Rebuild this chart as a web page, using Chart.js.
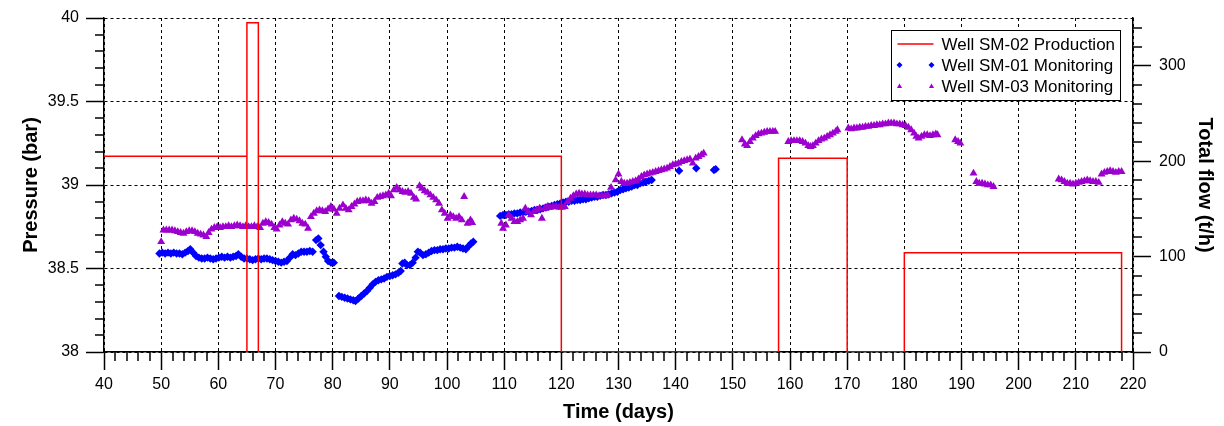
<!DOCTYPE html>
<html>
<head>
<meta charset="utf-8">
<script src="https://cdn.jsdelivr.net/npm/chart.js@4.4.1/dist/chart.umd.min.js"></script>
<style>
  html, body { margin: 0; padding: 0; background: #fff; }
</style>
</head>
<body>
<canvas id="pressure" width="1224" height="426"></canvas>
<script>
// tick labels
const dayTicks = [40, 50, 60, 70, 80, 90, 100, 110, 120, 130, 140, 150, 160, 170, 180, 190, 200, 210, 220];
const pressureTicks = [38, 38.5, 39, 39.5, 40];
const flowTicks = [0, 100, 200, 300];

// Well SM-02 production (t/h), corner points of the step line
const prodDays = [40, 65, 65, 65, 67, 67, 67, 120, 120, 158, 158, 170, 170, 180, 180, 218, 218];
const prodRate = [205, 205, 0, 345, 345, 0, 205, 205, 0, 0, 203, 203, 0, 0, 104, 104, 0];

// Well SM-01 monitoring, [day, bar]
const sm01 = [
  [49.7,38.59],[50.2,38.595],[50.7,38.59],[51.2,38.595],[51.7,38.59],[52.2,38.595],[52.7,38.59],[53.2,38.59],
  [53.7,38.585],[54.2,38.595],[54.7,38.605],[55.1,38.615],[55.6,38.595],[56.1,38.575],[56.6,38.565],[57.1,38.56],
  [57.6,38.56],[58.1,38.565],[58.6,38.56],[59.1,38.555],[59.6,38.56],[60.1,38.565],[60.6,38.57],[61.1,38.565],
  [61.6,38.57],[62.1,38.565],[62.6,38.57],[63.1,38.575],[63.5,38.585],[64.0,38.57],[64.5,38.56],[65.0,38.56],
  [65.5,38.555],[66.0,38.55],[66.5,38.555],[67.0,38.56],[67.5,38.555],[68.0,38.56],[68.5,38.56],[69.0,38.555],
  [69.5,38.55],[70.0,38.545],[70.5,38.54],[71.0,38.535],[71.5,38.54],[72.0,38.545],[72.5,38.565],[73.0,38.585],
  [73.5,38.58],[74.0,38.59],[74.5,38.6],[75.0,38.6],[75.5,38.6],[76.0,38.605],[76.5,38.6],[77.1,38.67],
  [77.5,38.68],[77.9,38.64],[78.4,38.6],[78.8,38.57],[79.2,38.545],[79.7,38.535],[80.2,38.535],
  [81.1,38.335],[81.6,38.33],[82.1,38.325],[82.6,38.32],[83.1,38.315],[83.6,38.31],[84.0,38.305],[84.5,38.32],
  [85.0,38.335],[85.5,38.35],[86.0,38.365],[86.5,38.385],[87.0,38.405],[87.5,38.42],[88.0,38.43],[88.5,38.435],
  [89.0,38.44],[89.5,38.45],[90.0,38.455],[90.5,38.46],[91.0,38.465],[91.5,38.475],[91.9,38.485],[92.2,38.53],
  [92.6,38.535],[93.0,38.52],[93.5,38.52],[94.0,38.535],[94.5,38.565],[94.9,38.6],[95.3,38.595],[95.8,38.58],
  [96.3,38.585],[96.8,38.595],[97.3,38.605],[97.8,38.61],[98.3,38.61],[98.8,38.615],[99.3,38.615],[99.8,38.62],
  [100.3,38.62],[100.8,38.625],[101.3,38.625],[101.8,38.63],[102.3,38.625],[102.8,38.62],[103.3,38.615],[103.8,38.635],
  [104.2,38.65],[104.6,38.66],
  [109.3,38.815],[109.8,38.82],[110.3,38.82],[110.8,38.825],[111.3,38.825],[111.8,38.83],[112.3,38.83],[112.8,38.835],
  [113.3,38.835],[113.8,38.84],[114.3,38.84],[114.8,38.845],[115.3,38.85],[115.8,38.85],[116.3,38.855],[116.8,38.86],
  [117.3,38.865],[117.8,38.87],[118.3,38.875],[118.8,38.88],[119.3,38.885],[119.8,38.89],[120.3,38.895],[120.8,38.9],
  [121.3,38.9],[121.8,38.905],[122.3,38.905],[122.8,38.91],[123.3,38.91],[123.8,38.915],[124.3,38.915],[124.8,38.92],
  [125.3,38.925],[125.8,38.93],[126.3,38.93],[126.8,38.935],[127.3,38.94],[127.8,38.94],[128.3,38.945],[128.8,38.95],
  [129.3,38.955],[129.8,38.96],[130.3,38.97],[130.8,38.975],[131.3,38.98],[131.8,38.985],[132.3,38.99],[132.8,39.0],
  [133.3,39.0],[133.8,39.01],[134.3,39.015],[134.8,39.02],[135.3,39.025],[135.8,39.03],
  [140.6,39.085],[143.6,39.1],[146.7,39.09],[147.0,39.095]
];

// Well SM-03 monitoring, [day, bar]
const sm03 = [
  [50.0,38.66],[50.4,38.73],[50.9,38.73],[51.4,38.73],[51.9,38.73],[52.4,38.725],[52.9,38.72],[53.4,38.715],
  [53.9,38.71],[54.4,38.72],[54.9,38.725],[55.4,38.725],[55.9,38.72],[56.4,38.71],[56.9,38.705],[57.4,38.7],
  [57.9,38.69],[58.3,38.715],[58.8,38.735],[59.3,38.745],[59.8,38.75],[60.3,38.745],[60.8,38.75],[61.3,38.75],
  [61.8,38.755],[62.3,38.75],[62.8,38.755],[63.3,38.76],[63.8,38.755],[64.3,38.75],[64.8,38.755],[65.3,38.75],
  [65.8,38.75],[66.3,38.755],[66.8,38.75],[67.3,38.745],[67.8,38.77],[68.3,38.78],[68.8,38.775],[69.3,38.765],
  [69.8,38.745],[70.2,38.735],[70.7,38.76],[71.2,38.78],[71.7,38.77],[72.2,38.765],[72.7,38.79],[73.2,38.8],
  [73.7,38.795],[74.2,38.785],[74.7,38.77],[75.2,38.765],[75.7,38.74],[76.2,38.81],[76.7,38.83],[77.2,38.845],
  [77.7,38.85],[78.2,38.845],[78.7,38.84],[79.2,38.855],[79.7,38.87],[80.2,38.855],[80.7,38.83],[81.2,38.86],
  [81.8,38.88],[82.3,38.86],[82.8,38.85],[83.3,38.87],[83.8,38.885],[84.3,38.9],[84.8,38.905],[85.3,38.905],
  [85.8,38.91],[86.3,38.905],[86.8,38.89],[87.3,38.9],[87.8,38.925],[88.3,38.93],[88.8,38.935],[89.3,38.94],
  [89.8,38.95],[90.2,38.935],[90.7,38.97],[91.2,38.985],[91.7,38.97],[92.2,38.96],[92.7,38.955],[93.2,38.96],
  [93.7,38.95],[94.2,38.925],[94.6,38.915],[95.2,38.995],[95.6,38.98],[96.1,38.965],[96.6,38.955],[97.1,38.94],
  [97.6,38.925],[98.1,38.91],[98.6,38.89],[99.1,38.85],[99.6,38.83],[100.1,38.8],[100.6,38.82],[101.1,38.81],
  [101.6,38.8],[102.1,38.81],[102.6,38.79],[103.0,38.93],[103.6,38.77],[104.1,38.79],[104.4,38.775],
  [109.5,38.77],[109.8,38.74],[110.3,38.76],[110.8,38.82],[111.3,38.8],[111.8,38.78],[112.3,38.78],[112.8,38.79],
  [113.3,38.8],[113.7,38.86],[114.2,38.84],[114.7,38.82],[115.2,38.84],[115.7,38.85],[116.2,38.86],[116.6,38.8],
  [117.1,38.86],[117.6,38.87],[118.1,38.865],[118.6,38.87],[119.1,38.87],[119.6,38.865],[120.1,38.865],[120.6,38.87],
  [121.1,38.9],[121.6,38.92],[122.1,38.935],[122.6,38.945],[123.1,38.95],[123.6,38.945],[124.1,38.945],[124.6,38.94],
  [125.1,38.94],[125.6,38.94],[126.1,38.94],[126.6,38.935],[127.1,38.935],[127.6,38.935],[128.1,38.94],[128.7,38.985],
  [129.5,39.03],[130.0,39.065],[130.5,39.02],[131.0,39.01],[131.5,39.01],[132.0,39.015],[132.5,39.02],[133.0,39.025],
  [133.5,39.035],[134.0,39.05],[134.5,39.06],[135.0,39.065],[135.5,39.07],[136.0,39.075],[136.5,39.08],[137.0,39.085],
  [137.5,39.09],[138.0,39.095],[138.5,39.1],[139.0,39.11],[139.5,39.12],[140.0,39.125],[140.5,39.13],[141.0,39.14],
  [141.5,39.145],[142.0,39.15],[142.5,39.155],[143.0,39.13],[143.5,39.16],[144.0,39.17],[144.5,39.18],[144.9,39.19],
  [151.6,39.27],[152.1,39.245],[152.5,39.235],[153.0,39.26],[153.5,39.28],[154.0,39.295],[154.5,39.305],[155.0,39.31],
  [155.5,39.315],[156.0,39.32],[156.5,39.32],[157.0,39.32],[157.4,39.32],
  [159.7,39.26],[160.2,39.265],[160.7,39.265],[161.2,39.265],[161.7,39.265],[162.2,39.26],[162.7,39.25],[163.2,39.235],
  [163.6,39.23],[164.0,39.235],[164.5,39.25],[165.0,39.265],[165.5,39.275],[166.0,39.28],[166.5,39.29],[167.0,39.3],
  [167.5,39.31],[168.0,39.32],[168.3,39.33],
  [170.2,39.34],[170.7,39.335],[171.2,39.34],[171.7,39.34],[172.2,39.345],[172.7,39.345],[173.2,39.35],[173.7,39.35],
  [174.2,39.355],[174.7,39.355],[175.2,39.36],[175.7,39.36],[176.2,39.365],[176.7,39.365],[177.2,39.37],[177.7,39.37],
  [178.2,39.37],[178.7,39.365],[179.2,39.365],[179.7,39.36],[180.2,39.355],[180.7,39.345],[181.2,39.33],[181.7,39.31],
  [182.1,39.29],[182.5,39.28],[183.0,39.29],[183.5,39.3],[184.0,39.3],[184.5,39.295],[185.0,39.3],[185.5,39.305],[185.8,39.3],
  [188.9,39.27],[189.4,39.26],[189.8,39.25],
  [192.1,39.07],[192.6,39.02],[193.1,39.01],[193.6,39.01],[194.1,39.005],[194.6,39.0],[195.1,39.0],[195.6,38.99],
  [207.0,39.035],[207.5,39.03],[208.0,39.02],[208.5,39.01],[209.0,39.01],[209.5,39.005],[210.0,39.01],[210.5,39.015],
  [211.0,39.02],[211.5,39.025],[212.0,39.03],[212.5,39.025],[213.0,39.02],[213.5,39.02],[214.0,39.015],[214.5,39.065],
  [215.0,39.075],[215.5,39.08],[216.0,39.085],[216.5,39.08],[217.0,39.075],[217.5,39.08],[218.0,39.08]
];

const RED = '#ff0000';
const BLUE = '#0000ff';
const PURPLE = '#9c00cf';

Chart.defaults.font.family = "'Liberation Sans', Arial, sans-serif";
Chart.defaults.color = '#000';

// minor tick marks (Chart.js has no minor ticks)
const minorTicks = {
  id: 'minorTicks',
  beforeDatasetsDraw(chart) {
    const { ctx, chartArea: a, scales } = chart;
    ctx.save();
    ctx.strokeStyle = '#000';
    ctx.lineWidth = 1.5;
    ctx.beginPath();
    for (let d = 40; d <= 220; d += 2) {
      if (d % 10 === 0) continue;
      const px = Math.round(scales.x.getPixelForValue(d));
      ctx.moveTo(px, a.bottom);
      ctx.lineTo(px, a.bottom + 9);
    }
    for (let i = 0; i <= 20; i++) {
      if (i % 5 === 0) continue;
      const py = Math.round(scales.y.getPixelForValue(38 + i * 0.1));
      ctx.moveTo(a.left - 9, py);
      ctx.lineTo(a.left, py);
    }
    for (let f = 0; f <= 350; f += 20) {
      if (f % 100 === 0) continue;
      const py = Math.round(scales.y1.getPixelForValue(f));
      ctx.moveTo(a.right, py);
      ctx.lineTo(a.right + 9, py);
    }
    ctx.stroke();
    ctx.restore();
  }
};

// boxed legend inside the plot, top right
const legendBox = {
  id: 'legendBox',
  afterDraw(chart) {
    const { ctx, chartArea: a } = chart;
    const w = 229, h = 70;
    const x0 = Math.round(a.right - 13 - w) + 0.5;
    const y0 = Math.round(a.top + 12) + 0.5;
    ctx.save();
    ctx.fillStyle = '#fff';
    ctx.fillRect(x0, y0, w, h);
    ctx.strokeStyle = '#000';
    ctx.lineWidth = 1;
    ctx.strokeRect(x0, y0, w, h);

    const rows = [
      { ds: chart.data.datasets[0], y: y0 + 13.5 },
      { ds: chart.data.datasets[2], y: y0 + 34.5 },
      { ds: chart.data.datasets[1], y: y0 + 56 }
    ];
    ctx.font = "17px 'Liberation Sans', Arial, sans-serif";
    ctx.textBaseline = 'middle';
    rows.forEach(r => {
      const ds = r.ds;
      if (ds.showLine) {
        ctx.strokeStyle = ds.borderColor;
        ctx.lineWidth = 1.5;
        ctx.beginPath();
        ctx.moveTo(x0 + 6, r.y);
        ctx.lineTo(x0 + 42, r.y);
        ctx.stroke();
      } else {
        ctx.fillStyle = ds.backgroundColor;
        [x0 + 8, x0 + 40].forEach(px => {
          Chart.helpers.drawPoint(ctx, { pointStyle: ds.pointStyle, radius: 3, borderWidth: 0, rotation: 0 }, px, r.y);
        });
      }
      ctx.fillStyle = '#000';
      ctx.fillText(ds.label, x0 + 50, r.y + 1);
    });
    ctx.restore();
  }
};

const axisBorder = { display: true, color: '#000', width: 1.5, dash: [3, 3] };

new Chart(document.getElementById('pressure'), {
  type: 'scatter',
  data: {
    datasets: [
      {
        label: 'Well SM-02 Production',
        type: 'line',
        data: prodDays.map((d, i) => ({ x: d, y: prodRate[i] })),
        yAxisID: 'y1',
        showLine: true,
        borderColor: RED,
        borderWidth: 1.5,
        pointRadius: 0,
        fill: false,
        tension: 0,
        order: 0
      },
      {
        label: 'Well SM-03 Monitoring',
        data: sm03.map(p => ({ x: p[0], y: p[1] })),
        yAxisID: 'y',
        pointStyle: 'triangle',
        pointRadius: 4.6,
        backgroundColor: PURPLE,
        borderColor: PURPLE,
        borderWidth: 0,
        order: 1
      },
      {
        label: 'Well SM-01 Monitoring',
        data: sm01.map(p => ({ x: p[0], y: p[1] })),
        yAxisID: 'y',
        pointStyle: 'rectRot',
        pointRadius: 4.2,
        backgroundColor: BLUE,
        borderColor: BLUE,
        borderWidth: 0,
        order: 2
      }
    ]
  },
  options: {
    responsive: false,
    animation: false,
    events: [],
    layout: { padding: { top: 18, left: 0, right: 0, bottom: 0 } },
    plugins: { legend: { display: false }, tooltip: { enabled: false } },
    scales: {
      x: {
        type: 'linear',
        min: 40,
        max: 220,
        afterBuildTicks: s => { s.ticks = dayTicks.map(v => ({ value: v })); },
        afterFit: s => { s.height = 74; },
        grid: { color: '#000', lineWidth: 1, tickLength: 18, tickColor: '#000', tickWidth: 1.5 },
        border: axisBorder,
        ticks: { font: { size: 16 }, padding: 5, maxRotation: 0, autoSkip: false, callback: v => String(v) },
        title: { display: true, text: 'Time (days)', font: { size: 20, weight: 'bold' }, padding: { top: 0, bottom: 2 } }
      },
      y: {
        type: 'linear',
        position: 'left',
        min: 38,
        max: 40,
        afterBuildTicks: s => { s.ticks = pressureTicks.map(v => ({ value: v })); },
        afterFit: s => { s.width = 104; },
        grid: { color: '#000', lineWidth: 1, tickLength: 18, tickColor: '#000', tickWidth: 1.5 },
        border: axisBorder,
        ticks: { font: { size: 16 }, padding: 7, callback: v => String(v) },
        title: { display: true, text: 'Pressure (bar)', font: { size: 20, weight: 'bold' }, padding: { top: 19, bottom: 0 } }
      },
      y1: {
        type: 'linear',
        position: 'right',
        min: 0,
        max: 350,
        afterBuildTicks: s => { s.ticks = flowTicks.map(v => ({ value: v })); },
        afterFit: s => { s.width = 91; },
        grid: { drawOnChartArea: false, tickLength: 18, tickColor: '#000', tickWidth: 1.5 },
        border: { display: true, color: '#000', width: 1.5 },
        ticks: { font: { size: 16 }, padding: 8, callback: v => String(v) },
        title: { display: true, text: 'Total flow (t/h)', font: { size: 20, weight: 'bold' }, padding: { top: 7, bottom: 0 } }
      }
    }
  },
  plugins: [minorTicks, legendBox]
});
</script>
</body>
</html>
